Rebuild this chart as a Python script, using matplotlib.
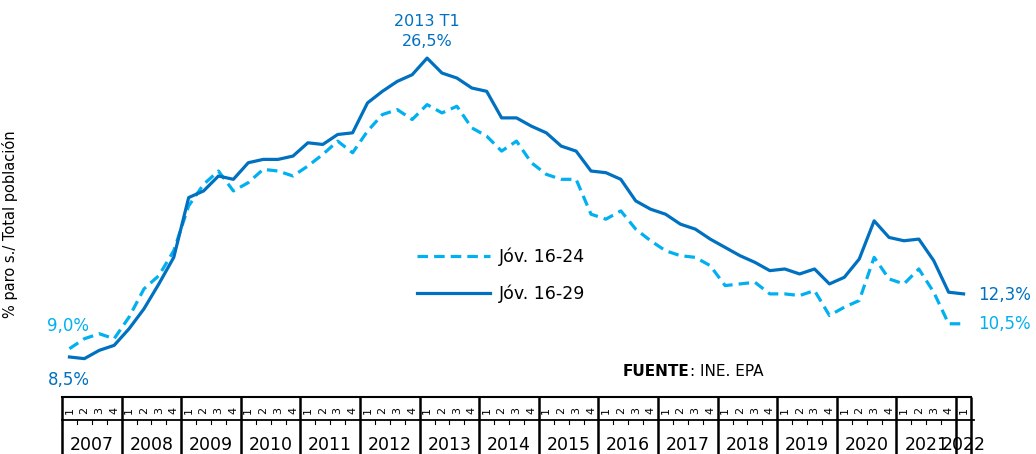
import matplotlib
matplotlib.use('Agg')
import matplotlib.pyplot as plt
from matplotlib.transforms import blended_transform_factory

# ---------------- data ----------------
years = [str(y) for y in range(2007, 2023)]
quarter_labels = ['1', '2', '3', '4']
jov_16_24 = [9.0, 9.6, 9.9, 9.6, 10.9, 12.6, 13.4, 14.9, 17.6, 18.9,
             19.7, 18.5, 19.0, 19.8, 19.7, 19.4, 20.0, 20.7, 21.5, 20.8,
             22.1, 23.1, 23.4, 22.8, 23.7, 23.2, 23.6, 22.3, 21.8, 20.9,
             21.5, 20.2, 19.5, 19.2, 19.2, 17.1, 16.8, 17.3, 16.2, 15.5,
             14.9, 14.6, 14.5, 14.0, 12.8, 12.9, 13.0, 12.3, 12.3, 12.2,
             12.5, 11.0, 11.5, 11.9, 14.5, 13.2, 12.9, 13.8, 12.4, 10.5,
             10.5]
jov_16_29 = [8.5, 8.4, 8.9, 9.2, 10.2, 11.4, 12.9, 14.5, 18.1, 18.5,
             19.4, 19.2, 20.2, 20.4, 20.4, 20.6, 21.4, 21.3, 21.9, 22.0,
             23.8, 24.5, 25.1, 25.5, 26.5, 25.6, 25.3, 24.7, 24.5, 22.9,
             22.9, 22.4, 22.0, 21.2, 20.9, 19.7, 19.6, 19.2, 17.9, 17.4,
             17.1, 16.5, 16.2, 15.6, 15.1, 14.6, 14.2, 13.7, 13.8, 13.5,
             13.8, 12.9, 13.3, 14.4, 16.7, 15.7, 15.5, 15.6, 14.3, 12.4,
             12.3]
series_labels = ['Jóv. 16-24', 'Jóv. 16-29']
peak_label = '2013 T1'
source_bold = 'FUENTE'
source_rest = ': INE. EPA'
y_label = '% paro s./ Total población'

plt.rcParams['font.family'] = ['DejaVu Sans']

def pct(v):
    return f'{v:.1f}%'.replace('.', ',')

n = len(jov_16_24)
x = list(range(n))
period_year = [years[i // 4] for i in x]
period_q = [quarter_labels[i % 4] for i in x]

W, H = 1036, 454
fig = plt.figure(figsize=(W / 100, H / 100), dpi=100)
ax = fig.add_axes([62 / W, 57 / H, 909 / W, 397 / H])
ax.set_xlim(-0.5, n - 0.5)
ax.set_ylim(6.09, 30.0)

dark = '#0070C0'
light = '#00B0F0'
l1, = ax.plot(x, jov_16_24, color=light, lw=2.3, dashes=(3.3, 1.9),
              label=series_labels[0], solid_joinstyle='round')
l2, = ax.plot(x, jov_16_29, color=dark, lw=2.3,
              label=series_labels[1], solid_joinstyle='round')

for s in ['top', 'left', 'right']:
    ax.spines[s].set_visible(False)
ax.spines['bottom'].set_linewidth(1.5)
ax.spines['bottom'].set_color('black')
ax.set_xticks([])
ax.set_yticks([])

ax.set_ylabel(y_label, fontsize=10.5)
ax.yaxis.set_label_coords(-0.0484, 0.436)

# ---------------- category axis ----------------
trans = blended_transform_factory(ax.transData, fig.transFigure)
fy = lambda p: 1 - p / H
bounds = [4 * k - 0.5 for k in range(len(years))] + [n - 0.5]
for b in bounds:
    ax.plot([b, b], [fy(397), fy(454)], transform=trans, color='black',
            lw=1.8, clip_on=False, solid_capstyle='butt')
ax.plot([-0.5, n - 0.3], [fy(420), fy(420)], transform=trans,
        color='black', lw=1.3, clip_on=False)
for i in range(n + 1):
    ax.plot([i - 0.5, i - 0.5], [fy(420), fy(424)], transform=trans,
            color='black', lw=0.8, clip_on=False)
for i in x:
    ax.text(i, fy(410.5), period_q[i], transform=trans, rotation=90,
            ha='center', va='center', fontsize=8)
for k, yr in enumerate(years):
    nq = period_year.count(yr)
    cx = 4 * k + (nq - 1) / 2
    ax.text(cx, fy(445), yr, transform=trans, ha='center', va='center',
            fontsize=12.5)

# ---------------- annotations ----------------
ipk = jov_16_29.index(max(jov_16_29))
ax.annotate(pct(jov_16_29[ipk]), xy=(ipk, jov_16_29[ipk]), xytext=(0, 12),
            textcoords='offset pixels', ha='center', va='baseline',
            color=dark, fontsize=11.5)
ax.annotate(peak_label, xy=(ipk, jov_16_29[ipk]), xytext=(0, 32),
            textcoords='offset pixels', ha='center', va='baseline',
            color=dark, fontsize=11.5)
ax.annotate(pct(jov_16_24[0]), xy=(0, jov_16_24[0]), xytext=(-1, 23),
            textcoords='offset pixels', ha='center', va='center',
            color=light, fontsize=12)
ax.annotate(pct(jov_16_29[0]), xy=(0, jov_16_29[0]), xytext=(-1, -23),
            textcoords='offset pixels', ha='center', va='center',
            color=dark, fontsize=12)
ax.annotate(pct(jov_16_29[-1]), xy=(n - 1, jov_16_29[-1]), xytext=(15, -1),
            textcoords='offset pixels', ha='left', va='center',
            color=dark, fontsize=12)
ax.annotate(pct(jov_16_24[-1]), xy=(n - 1, jov_16_24[-1]), xytext=(15, 0),
            textcoords='offset pixels', ha='left', va='center',
            color=light, fontsize=12)

leg = ax.legend(handles=[l1, l2], loc='upper left',
                bbox_to_anchor=(417 / W, 1 - 248 / H),
                bbox_transform=fig.transFigure, frameon=False,
                fontsize=12.5, handlelength=4.2, handletextpad=0.5,
                labelspacing=1.05, borderpad=0, borderaxespad=0)

t1 = fig.text(623 / W, fy(372), source_bold, fontsize=11, fontweight='bold',
              ha='left', va='center')
ax.annotate(source_rest, xy=(1, 0.5), xycoords=t1, ha='left', va='center',
            fontsize=11)

fig.savefig('out.png', dpi=100)
